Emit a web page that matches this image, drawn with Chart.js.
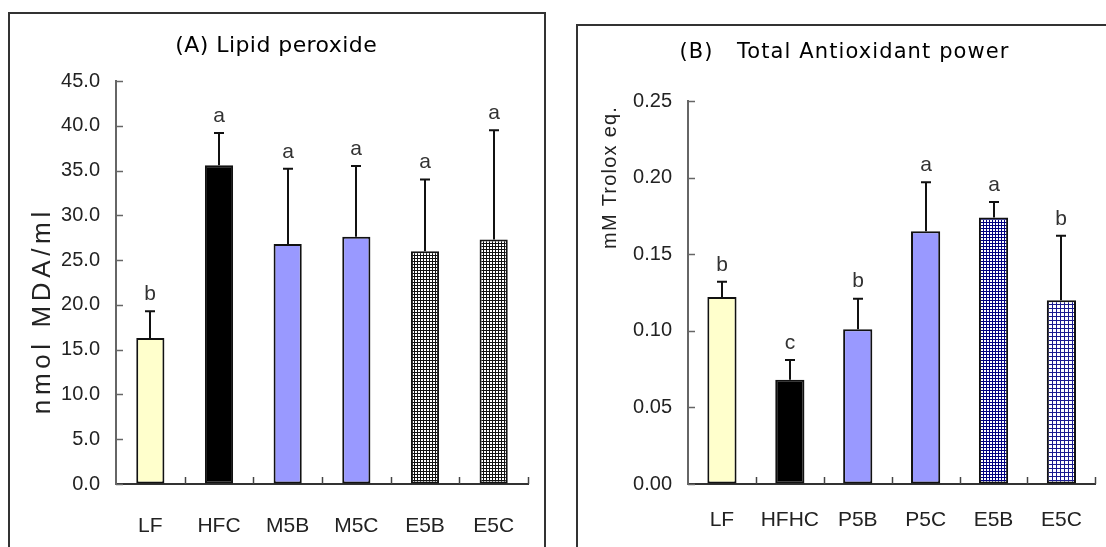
<!DOCTYPE html>
<html>
<head>
<meta charset="utf-8">
<script src="https://cdn.jsdelivr.net/npm/chart.js@4/dist/chart.umd.min.js"></script>
<style>
body{margin:0;background:#fff;overflow:hidden;width:1106px;height:547px;position:relative}
.box{position:absolute;border:2px solid #333;box-sizing:border-box}
canvas{position:absolute;top:0}
</style>
</head>
<body>
<div class="box" style="left:8px;top:12px;width:538px;height:600px"></div>
<div class="box" style="left:576px;top:24px;width:600px;height:600px"></div>
<canvas id="graf1" width="560" height="547" style="left:0"></canvas>
<canvas id="graf2" width="546" height="547" style="left:560px"></canvas>
<script>
// (A) lipid peroxide
var groupsA = ['LF','HFC','M5B','M5C','E5B','E5C'];
var meanA = [16.3, 35.6, 26.8, 27.6, 26.0, 27.3];
var sdA = [3.0, 3.6, 8.4, 7.9, 8.0, 12.2];
var letA = ['b','a','a','a','a','a'];
var ticksA = [0,5,10,15,20,25,30,35,40,45];

// (B) total antioxidant power
var groupsB = ['LF','HFHC','P5B','P5C','E5B','E5C'];
var meanB = [0.122, 0.068, 0.101, 0.165, 0.174, 0.120];
var sdB = [0.010, 0.013, 0.020, 0.032, 0.010, 0.042];
var letB = ['b','c','b','a','a','b'];
var ticksB = [0,0.05,0.10,0.15,0.20,0.25];

var grid = function(color, step){
    var c = document.createElement('canvas');
    c.width = step; c.height = step;
    var x = c.getContext('2d');
    x.fillStyle = '#fff';
    x.fillRect(0,0,step,step);
    x.fillStyle = color;
    x.fillRect(0,0,step,1);
    x.fillRect(0,0,1,step);
    return x.createPattern(c,'repeat');
};

// text stretched to the width it has in the original
function fitText(ctx, txt, x, y, w){
    ctx.letterSpacing = '0px';
    var m = ctx.measureText(txt).width;
    var sp = (w - m) / txt.length;
    ctx.letterSpacing = sp + 'px';
    ctx.fillText(txt, x + sp/2, y);
    ctx.letterSpacing = '0px';
}

var deco = {
    id:'deco',
    afterDatasetsDraw:function(chart, args, o){
        var ctx = chart.ctx, x = chart.scales.x, y = chart.scales.y, a = chart.chartArea;
        ctx.save();
        // inner ticks
        ctx.strokeStyle = '#666'; ctx.lineWidth = 1.5;
        y.ticks.forEach(function(t){
            var py = Math.round(y.getPixelForValue(t.value)) + 0.5;
            ctx.beginPath(); ctx.moveTo(a.left, py); ctx.lineTo(a.left+7, py); ctx.stroke();
        });
        ctx.strokeStyle = '#444';
        for(var i=0;i<x.ticks.length;i++){
            var px = Math.round(x.getPixelForValue(i+0.5)) + 0.5;
            ctx.beginPath(); ctx.moveTo(px, a.bottom); ctx.lineTo(px, a.bottom-7); ctx.stroke();
        }
        // error bars + letters
        var meta = chart.getDatasetMeta(0);
        var mean = chart.data.datasets[0].data;
        ctx.strokeStyle = '#111'; ctx.lineWidth = 2;
        ctx.fillStyle = '#333';
        ctx.font = '21px "Liberation Sans"';
        ctx.textAlign = 'center'; ctx.textBaseline = 'middle';
        meta.data.forEach(function(bar, i){
            var top = y.getPixelForValue(mean[i] + o.sd[i]);
            var bx = Math.round(bar.x);
            ctx.beginPath(); ctx.moveTo(bx, bar.y); ctx.lineTo(bx, top);
            ctx.moveTo(bx-5, top); ctx.lineTo(bx+5, top); ctx.stroke();
            ctx.fillText(o.letters[i], bx, top-17);
        });
        // titles
        ctx.fillStyle = '#000';
        ctx.font = o.titleFont;
        fitText(ctx, o.title, o.titleX, o.titleY, o.titleW);
        ctx.fillStyle = '#222';
        ctx.font = o.yTitleFont;
        ctx.translate(o.yTitleX, o.yTitleY);
        ctx.rotate(-Math.PI/2);
        fitText(ctx, o.yTitle, 0, 0, o.yTitleW);
        ctx.restore();
    }
};

function makeChart(el, labels, data, colors, tickVals, dec, pad, yWidth, barPct, xPad, opts){
    return new Chart(el,{
        type:'bar',
        data:{
            labels:labels,
            datasets:[{
                data:data,
                backgroundColor:colors,
                borderColor:'#111',
                borderWidth:2,
                borderSkipped:false,
                barPercentage:barPct,
                categoryPercentage:1
            }]
        },
        options:{
            responsive:false,
            animation:false,
            layout:{padding:pad},
            plugins:{legend:{display:false},tooltip:{enabled:false},deco:opts},
            scales:{
                x:{
                    grid:{display:true,drawOnChartArea:false,drawTicks:false},
                    border:{color:'#333',width:2},
                    ticks:{color:'#222',font:{family:'Liberation Sans',size:21},padding:xPad},
                    afterFit:function(s){ s.height = 63; }
                },
                y:{
                    min:tickVals[0],
                    max:tickVals[tickVals.length-1],
                    grid:{display:true,drawOnChartArea:false,drawTicks:false},
                    border:{color:'#666',width:2},
                    afterBuildTicks:function(s){ s.ticks = tickVals.map(function(v){ return {value:v}; }); },
                    ticks:{color:'#222',font:{family:'Liberation Sans',size:20},padding:16,
                        callback:function(v){ return v.toFixed(dec); }},
                    afterFit:function(s){ s.width = yWidth; }
                }
            }
        },
        plugins:[deco]
    });
}

var patK = grid('#111', 3);
var patN1 = grid('#000080', 3);
var patN2 = grid('#1a1a90', 4);

makeChart(document.getElementById('graf1'), groupsA, meanA,
    ['#ffffcc','#000000','#9999ff','#9999ff',patK,patK],
    ticksA, 1, {left:36,top:81,right:32,bottom:0}, 80, 0.41, 30,
    {sd:sdA, letters:letA, title:'(A) Lipid peroxide', titleFont:'22px "DejaVu Sans"', titleW:202,
     titleX:276, titleY:46, yTitle:'nmol MDA/ml', yTitleFont:'26px "Liberation Sans"', yTitleW:207,
     yTitleX:43, yTitleY:313});

makeChart(document.getElementById('graf2'), groupsB, meanB,
    ['#ffffcc','#000000','#9999ff','#9999ff',patN1,patN2],
    ticksB, 2, {left:28,top:101,right:2,bottom:0}, 100, 0.43, 24,
    {sd:sdB, letters:letB, title:'(B)   Total Antioxidant power', titleFont:'21px "DejaVu Sans"', titleW:330,
     titleX:284, titleY:53, yTitle:'mM Trolox eq.', yTitleFont:'20px "Liberation Sans"', yTitleW:143,
     yTitleX:50, yTitleY:178});
</script>
</body>
</html>
